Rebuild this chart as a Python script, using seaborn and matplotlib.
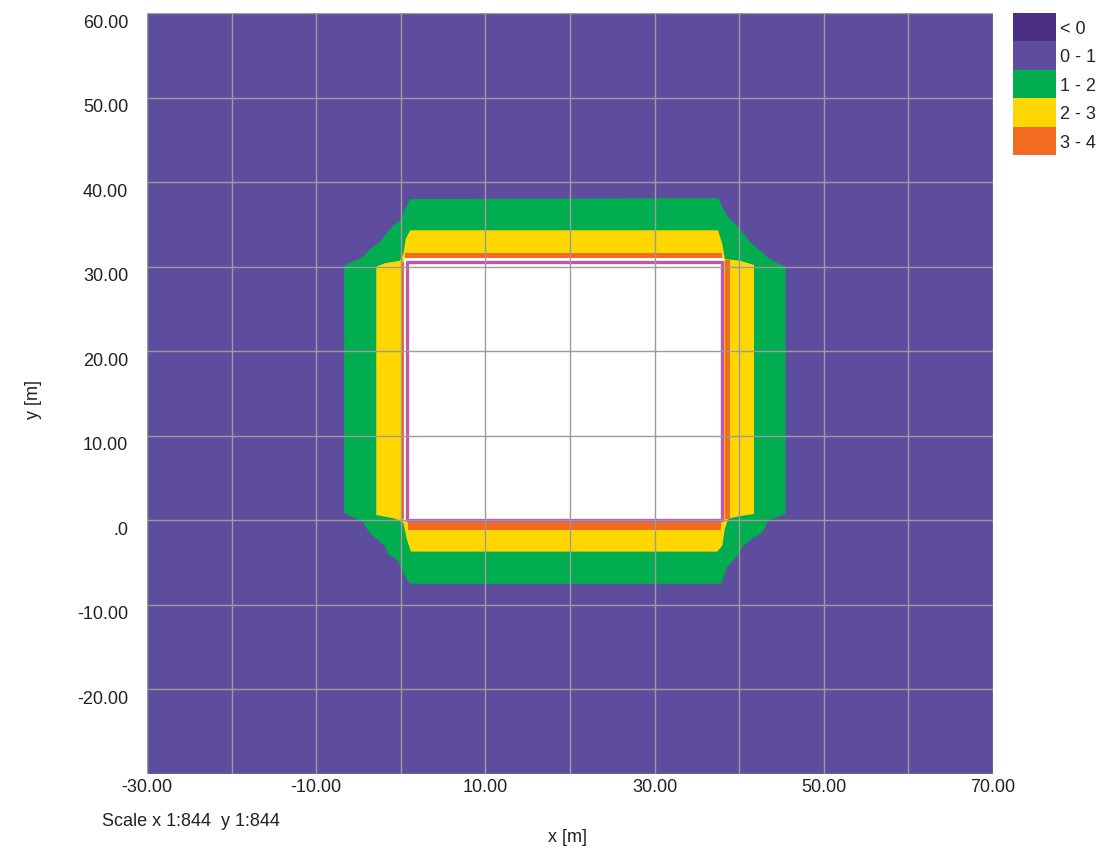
import numpy as np
import matplotlib
matplotlib.use("Agg")
import matplotlib.pyplot as plt
from matplotlib.patches import Patch
from matplotlib.ticker import FixedLocator, FuncFormatter
from matplotlib.transforms import ScaledTranslation
import seaborn as sns

# ---- data -------------------------------------------------------------
legend_labels = ["< 0", "0 - 1", "1 - 2", "2 - 3", "3 - 4"]
legend_colors = ["#4b2d82", "#5e4d9e", "#00ae50", "#ffd700", "#f36b21"]

# outer boundary of the 1 - 2 zone [m]
zone12_x = [1.1, 37.5, 38.3, 38.9, 39.9, 41.3, 42.7, 43.6, 45.2, 45.5, 45.5, 44.5,
            43.4, 42.8, 41.5, 40.5, 39.5, 38.6, 38.0, 37.7, 1.0, 0.1, -0.3, -1.5,
            -1.9, -3.6, -4.5, -5.7, -6.7, -6.7, -6.4, -4.5, -3.6, -2.5, -1.0, -0.1, 0.5]
zone12_y = [38.0, 38.1, 36.5, 35.6, 34.7, 32.9, 31.7, 30.9, 30.1, 30.0, 0.8, 0.4,
            -0.1, -1.4, -2.2, -3.0, -4.6, -5.4, -7.3, -7.5, -7.5, -5.8, -4.8, -4.0,
            -3.0, -1.6, -0.2, 0.4, 0.9, 30.0, 30.3, 31.1, 32.1, 32.9, 34.8, 35.4, 36.8]

# outer boundary of the 2 - 3 zone [m]
zone23_x = [1.1, 37.5, 38.0, 38.3, 40.1, 41.75, 41.75, 40.1, 38.7, 38.3, 38.0, 37.4,
            1.2, 0.7, 0.3, -0.7, -2.7, -2.9, -2.9, -1.9, -0.1, 0.3, 0.6]
zone23_y = [34.3, 34.3, 32.7, 30.9, 30.7, 30.2, 0.75, 0.5, 0.2, -1.0, -3.0, -3.7,
            -3.7, -2.2, -0.3, 0.2, 0.6, 0.6, 30.0, 30.4, 30.7, 31.5, 33.3]

# 3 - 4 bands along the building faces: x0, x1, y0, y1 [m]
band34_x0 = [0.5, 38.3, 0.8, 0.2]
band34_x1 = [38.0, 38.9, 37.9, 0.45]
band34_y0 = [31.0, 0.1, -1.2, 0.2]
band34_y1 = [31.6, 30.8, -0.1, 30.6]

# area without results (building footprint plus margin) [m]
blank_x = [0.4, 38.2]
blank_y = [-0.1, 31.0]

# building outline [m]
building_x = [0.7, 38.0, 38.0, 0.7, 0.7]
building_y = [0.0, 0.0, 30.5, 30.5, 0.0]

x_labelled = [-30, -10, 10, 30, 50, 70]
y_labelled = [60, 50, 40, 30, 20, 10, 0, -10, -20]
x_limits = (-30, 70)
y_limits = (-30, 60)

# ---- style ------------------------------------------------------------
sns.set_style("white")
plt.rcParams["font.family"] = ["Liberation Sans", "DejaVu Sans"]
FS = 13
TXT = "#222222"

fig = plt.figure(figsize=(11.09, 8.53), dpi=100)
ax = fig.add_axes([147 / 1109, 78 / 853, 846 / 1109, 761 / 853])
ax.set_facecolor(legend_colors[1])

ax.fill(zone12_x, zone12_y, color=legend_colors[2], lw=0, zorder=1)
ax.fill(zone23_x, zone23_y, color=legend_colors[3], lw=0, zorder=1.1)
for x0, x1, y0, y1 in zip(band34_x0, band34_x1, band34_y0, band34_y1):
    ax.fill_between([x0, x1], [y0, y0], [y1, y1], color=legend_colors[4], lw=0, zorder=1.2)
ax.fill_between(blank_x, [blank_y[0]] * 2, [blank_y[1]] * 2, color="white", lw=0, zorder=1.3)

outline = {"x": building_x, "y": building_y}
sns.lineplot(x="x", y="y", data=outline, sort=False, estimator=None,
             color="#c158a6", lw=2.4, ax=ax, zorder=1.5)

ax.set_xlim(*x_limits)
ax.set_ylim(*y_limits)

grid_x = np.arange(x_limits[0], x_limits[1] + 1, 10)
grid_y = np.arange(y_limits[0], y_limits[1] + 1, 10)
ax.xaxis.set_major_locator(FixedLocator(grid_x))
ax.yaxis.set_major_locator(FixedLocator(grid_y))


def fmt_value(v):
    return ".0" if v == 0 else f"{v:.2f}"


ax.xaxis.set_major_formatter(FuncFormatter(
    lambda v, p: fmt_value(v) if round(v) in x_labelled else ""))
ax.yaxis.set_major_formatter(FuncFormatter(
    lambda v, p: fmt_value(v) if round(v) in y_labelled else ""))
ax.tick_params(axis="x", length=0, pad=3, labelsize=FS, labelcolor=TXT)
ax.tick_params(axis="y", length=0, pad=13.5, labelsize=FS, labelcolor=TXT)

# y labels sit just below their grid lines
shift_down = ScaledTranslation(0, -7 / 100, fig.dpi_scale_trans)
for lab in ax.yaxis.get_majorticklabels():
    lab.set_transform(lab.get_transform() + shift_down)

ax.grid(True, color="#9c9c9c", lw=1.0, zorder=3)
ax.set_axisbelow(False)
for s in ax.spines.values():
    s.set_visible(False)

ax.set_xlabel("")
ax.set_ylabel("")
fig.text(568 / 1109, 1 - 838 / 853, "x [m]", ha="center", va="center", fontsize=FS, color=TXT)
fig.text(33 / 1109, 1 - 400 / 853, "y [m]", ha="center", va="center", rotation=90,
         fontsize=FS, color=TXT)
fig.text(102 / 1109, 1 - 822 / 853, "Scale x 1:844  y 1:844", ha="left", va="center",
         fontsize=FS, color=TXT)

handles = [Patch(facecolor=c, edgecolor="none") for c in legend_colors]
fig.legend(handles, legend_labels, loc="upper left",
           bbox_to_anchor=(1013 / 1109, 1 - 14 / 853), frameon=False,
           borderpad=0, borderaxespad=0, labelspacing=0,
           handlelength=2.4, handleheight=2.05, handletextpad=0.22, fontsize=FS)

fig.savefig("out.png", dpi=100)
